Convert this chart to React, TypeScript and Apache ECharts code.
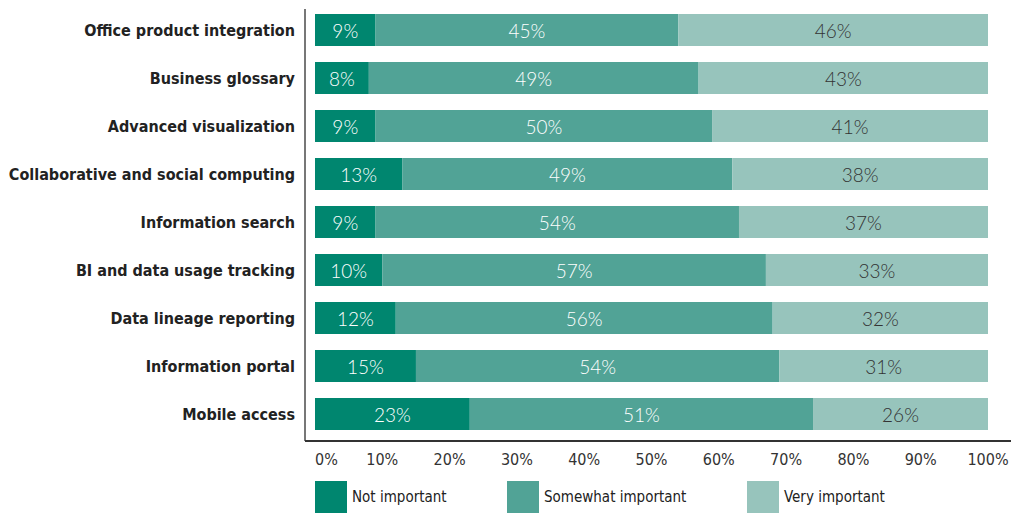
import React, { useEffect, useRef } from "react";
import * as echarts from "echarts";

const categories = [
  "Office product integration",
  "Business glossary",
  "Advanced visualization",
  "Collaborative and social computing",
  "Information search",
  "BI and data usage tracking",
  "Data lineage reporting",
  "Information portal",
  "Mobile access",
];
const notImportant = [9, 8, 9, 13, 9, 10, 12, 15, 23];
const somewhatImportant = [45, 49, 50, 49, 54, 57, 56, 54, 51];
const veryImportant = [46, 43, 41, 38, 37, 33, 32, 31, 26];
const seriesNames = ["Not important", "Somewhat important", "Very important"];
const colors = ["#00866f", "#51a396", "#97c4bc"];
const legendLefts = [315, 507, 747];

const narrow = "'DejaVu Sans Condensed', 'Liberation Sans Narrow', sans-serif";
const labelFont = "Lato, 'Open Sans', sans-serif";

export default function App() {
  const ref = useRef<HTMLDivElement>(null);
  useEffect(() => {
    if (!ref.current) return;
    const chart = echarts.init(ref.current, null, { renderer: "svg" });
    const data = [notImportant, somewhatImportant, veryImportant];
    chart.setOption({
      animation: false,
      grid: { left: 315, right: 23, top: 6, bottom: 75, containLabel: false, outerBoundsMode: "none" },
      xAxis: {
        type: "value",
        min: 0,
        max: 100,
        interval: 10,
        axisLine: { show: false },
        axisTick: { show: false },
        splitLine: { show: false },
        axisLabel: {
          formatter: "{value}%",
          margin: 13,
          fontFamily: narrow,
          fontSize: 16,
          color: "#333",
          alignMinLabel: "left",
        },
      },
      yAxis: {
        type: "category",
        inverse: true,
        data: categories,
        axisLine: { show: false },
        axisTick: { show: false },
        axisLabel: {
          margin: 20,
          fontFamily: narrow,
          fontWeight: "bold",
          fontSize: 16,
          color: "#222",
          padding: [5, 0, 0, 0],
        },
      },
      legend: seriesNames.map((n, i) => ({
        data: [n],
        left: legendLefts[i],
        top: 481,
        itemWidth: 32,
        itemHeight: 32,
        itemGap: 0,
        icon: "rect",
        textStyle: { fontFamily: narrow, fontSize: 15, color: "#222" },
        padding: 0,
        selectedMode: false,
      })),
      series: seriesNames.map((n, i) => ({
        name: n,
        type: "bar",
        stack: "total",
        barWidth: 32,
        data: data[i],
        itemStyle: { color: colors[i] },
        label: {
          show: true,
          position: "inside",
          formatter: "{c}%",
          fontFamily: labelFont,
          fontWeight: 300,
          fontSize: 19,
          color: i < 2 ? "#ffffff" : "#333333",
        },
      })),
      graphic: [
        {
          type: "line",
          shape: { x1: 305, y1: 9, x2: 305, y2: 441 },
          style: { stroke: "#777", lineWidth: 2 },
        },
        {
          type: "line",
          shape: { x1: 305, y1: 441, x2: 1011, y2: 441 },
          style: { stroke: "#333", lineWidth: 2 },
        },
      ],
    });
    return () => chart.dispose();
  }, []);
  return <div ref={ref} style={{ width: 1011, height: 513, position: "absolute", left: 0, top: 0 }} />;
}
